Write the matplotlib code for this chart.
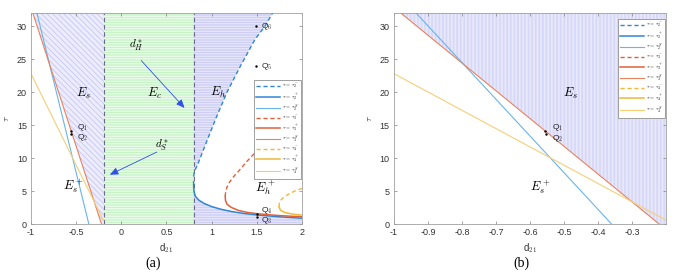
import numpy as np
import matplotlib
matplotlib.use('Agg')
import matplotlib.pyplot as plt

plt.rcParams['font.family'] = ['Liberation Sans', 'DejaVu Sans']
plt.rcParams['mathtext.fontset'] = 'cm'
plt.rcParams['hatch.linewidth'] = 0.5

# ---- data: (d21, tau) ----
# straight "S" lines
tau2S_d = [-0.935, -0.36]
tau2S_t = [32.0, 0.0]
tau3S_d = [-0.98, -0.22]
tau3S_t = [32.0, 0.0]
tau4S_d = [-1.0, -0.2]
tau4S_t = [22.8, 0.6]

# Hopf-type curves
tau2m_d = [0.80, 0.81, 0.85, 0.93, 1.04, 1.17, 1.32, 1.48, 1.59, 1.675]
tau2m_t = [7.2, 8.0, 9.2, 12.0, 15.8, 20.0, 24.0, 28.0, 30.0, 32.0]
tau2p_d = [0.80, 0.801, 0.805, 0.82, 0.86, 0.92, 1.00, 1.10, 1.22, 1.35, 1.50, 1.75, 2.0]
tau2p_t = [6.4, 5.6, 4.9, 4.2, 3.6, 3.1, 2.65, 2.25, 1.9, 1.62, 1.38, 1.1, 0.88]
tau3m_d = [1.150, 1.155, 1.17, 1.20, 1.25, 1.31, 1.39, 1.48, 1.58]
tau3m_t = [4.2, 4.9, 5.6, 6.4, 7.3, 8.2, 9.5, 10.8, 12.2]
tau3p_d = [1.150, 1.153, 1.17, 1.22, 1.30, 1.40, 1.55, 1.75, 2.0]
tau3p_t = [4.2, 3.6, 3.0, 2.5, 2.05, 1.75, 1.5, 1.28, 1.1]
tau4m_d = [1.745, 1.75, 1.77, 1.81, 1.86, 1.92, 2.0]
tau4m_t = [2.6, 3.2, 3.7, 4.2, 4.6, 5.0, 5.4]
tau4p_d = [1.745, 1.76, 1.80, 1.86, 1.93, 2.0]
tau4p_t = [2.6, 2.15, 1.8, 1.6, 1.45, 1.35]

d_S = -0.19     # d_S^*
d_H = 0.80      # d_H^*

Q_d = [-0.557, -0.553, 1.50, 1.50, 1.49, 1.49]
Q_t = [14.1, 13.7, 1.0, 1.45, 24.0, 30.0]

blue, orange, yellow = '#2f86d6', '#e0603a', '#f0b93a'
blueS, orangeS, yellowS = '#6ab4ea', '#e8825f', '#f5cf78'


def draw_curves(ax):
    ax.plot(tau2m_d, tau2m_t, '--', color=blue, lw=1.0, dashes=(3, 2), label=r'$\tau\,=\,\tau_2^-$')
    ax.plot(tau2p_d, tau2p_t, '-', color=blue, lw=1.1, label=r'$\tau\,=\,\tau_2^+$')
    ax.plot(tau2S_d, tau2S_t, '-', color=blueS, lw=0.8, label=r'$\tau\,=\,\tau_2^S$')
    ax.plot(tau3m_d, tau3m_t, '--', color=orange, lw=1.0, dashes=(3, 2), label=r'$\tau\,=\,\tau_3^-$')
    ax.plot(tau3p_d, tau3p_t, '-', color=orange, lw=1.1, label=r'$\tau\,=\,\tau_3^+$')
    ax.plot(tau3S_d, tau3S_t, '-', color=orangeS, lw=0.8, label=r'$\tau\,=\,\tau_3^S$')
    ax.plot(tau4m_d, tau4m_t, '--', color=yellow, lw=1.0, dashes=(3, 2), label=r'$\tau\,=\,\tau_4^-$')
    ax.plot(tau4p_d, tau4p_t, '-', color=yellow, lw=1.1, label=r'$\tau\,=\,\tau_4^+$')
    ax.plot(tau4S_d, tau4S_t, '-', color=yellowS, lw=0.8, label=r'$\tau\,=\,\tau_4^S$')


def style(ax):
    for s in ax.spines.values():
        s.set_color('#a0a0a0')
        s.set_linewidth(0.6)
    ax.tick_params(direction='in', length=2.5, width=0.5, color='#808080',
                   labelsize=6.5, labelcolor='#333333', top=True, right=True, pad=3)
    ax.set_ylim(0, 32)
    ax.set_yticks([0, 5, 10, 15, 20, 25, 30])
    ax.set_xlabel(r'd$_{\mathsf{21}}$', fontsize=7, color='#333333', labelpad=3)
    ax.set_ylabel(r'$\tau$', fontsize=7, color='#333333', labelpad=4)


def add_legend(ax, top):
    lg = ax.legend(loc='upper right', bbox_to_anchor=(0.998, top), borderaxespad=0,
                   fontsize=3.7, handlelength=4.6, labelspacing=0.0, handletextpad=0.4,
                   borderpad=0.45, fancybox=False, framealpha=1, edgecolor='#909090')
    lg.get_frame().set_linewidth(0.6)


fig = plt.figure(figsize=(6.76, 2.79), dpi=100)
axa = fig.add_axes([0.0459, 0.197, 0.4008, 0.7563])
axb = fig.add_axes([0.5828, 0.197, 0.4024, 0.7563])

# ---------- panel (a) ----------
t_line = np.array(tau3S_t)
d_line = np.array(tau3S_d)
axa.fill_betweenx(t_line, d_line, d_S, facecolor='#ececfc', edgecolor='#c0c0f3',
                  hatch='\\\\\\\\\\\\', linewidth=0, zorder=0)
axa.fill_between([d_S, d_H], 0, 32, facecolor='#f4fdf4', edgecolor='#b4f0b4',
                 hatch='-' * 10, linewidth=0, zorder=0)
eh_d = [d_H, d_H] + tau2m_d[1:][::-1] + tau2p_d + [2.0, 2.0]
eh_t = [0.0, 32.0] + tau2m_t[1:][::-1] + tau2p_t + [0.0, 0.0]
axa.fill(eh_d, eh_t, facecolor='#ececfc', edgecolor='#c0c0f3',
         hatch='-' * 10, linewidth=0, zorder=0)
for x0 in (d_S, d_H):
    axa.plot([x0, x0], [0, 32], color='#6a6a8a', lw=0.8, dashes=(4, 2.5))

draw_curves(axa)
axa.plot(Q_d, Q_t, 'k.', ms=1.5)
qtxt = [('Q$_{\\mathsf{1}}$', -0.49, 14.7), ('Q$_{\\mathsf{2}}$', -0.49, 13.1),
        ('Q$_{\\mathsf{3}}$', 1.55, 0.5), ('Q$_{\\mathsf{4}}$', 1.55, 2.1),
        ('Q$_{\\mathsf{5}}$', 1.55, 23.9), ('Q$_{\\mathsf{6}}$', 1.55, 29.9)]
for s, x, y in qtxt:
    axa.text(x, y, s, fontsize=6, va='center', ha='left', color='#222222')

for s, x, y in [(r'$E_s$', -0.42, 19.8), (r'$E_c$', 0.37, 19.8), (r'$E_h$', 1.07, 20.0),
                (r'$E_s^+$', -0.53, 5.8), (r'$E_h^+$', 1.59, 5.5)]:
    axa.text(x, y, s, fontsize=9, ha='center', va='center')
axa.text(0.17, 27.1, r'$d_H^*$', fontsize=8, ha='center', va='center')
axa.text(0.45, 12.0, r'$d_S^*$', fontsize=8, ha='center', va='center')
arr = dict(arrowstyle='-|>,head_length=0.5,head_width=0.22', color='#2f4fe8', lw=0.6)
axa.annotate('', xy=(0.72, 17.3), xytext=(0.2, 25.1), arrowprops=arr)
axa.annotate('', xy=(-0.155, 7.3), xytext=(0.42, 11.1), arrowprops=arr)

axa.set_xlim(-1, 2)
axa.set_xticks([-1, -0.5, 0, 0.5, 1, 1.5, 2])
axa.set_xticklabels(['-1', '-0.5', '0', '0.5', '1', '1.5', '2'])
style(axa)
add_legend(axa, 0.682)

# ---------- panel (b) ----------
axb.fill_betweenx(t_line, d_line, d_S, facecolor='#f6f6fe', edgecolor='#cacaf5',
                  hatch='|' * 12, linewidth=0, zorder=0)
draw_curves(axb)
axb.plot(Q_d[:2], Q_t[:2], 'k.', ms=1.5)
axb.text(-0.536, 14.7, 'Q$_{\\mathsf{1}}$', fontsize=6, va='center', color='#222222')
axb.text(-0.536, 13.0, 'Q$_{\\mathsf{2}}$', fontsize=6, va='center', color='#222222')
axb.text(-0.48, 19.8, r'$E_s$', fontsize=9, ha='center', va='center')
axb.text(-0.57, 5.6, r'$E_s^+$', fontsize=9, ha='center', va='center')
axb.set_xlim(-1, -0.2)
xb = [-1, -0.9, -0.8, -0.7, -0.6, -0.5, -0.4, -0.3]
axb.set_xticks(xb)
axb.set_xticklabels(['-1', '-0.9', '-0.8', '-0.7', '-0.6', '-0.5', '-0.4', '-0.3'])
style(axb)
add_legend(axb, 0.971)

fig.text(0.226, 0.057, '(a)', fontsize=10, family='Liberation Serif', ha='center', va='center')
fig.text(0.772, 0.057, '(b)', fontsize=10, family='Liberation Serif', ha='center', va='center')

fig.savefig('out.png', dpi=100)
